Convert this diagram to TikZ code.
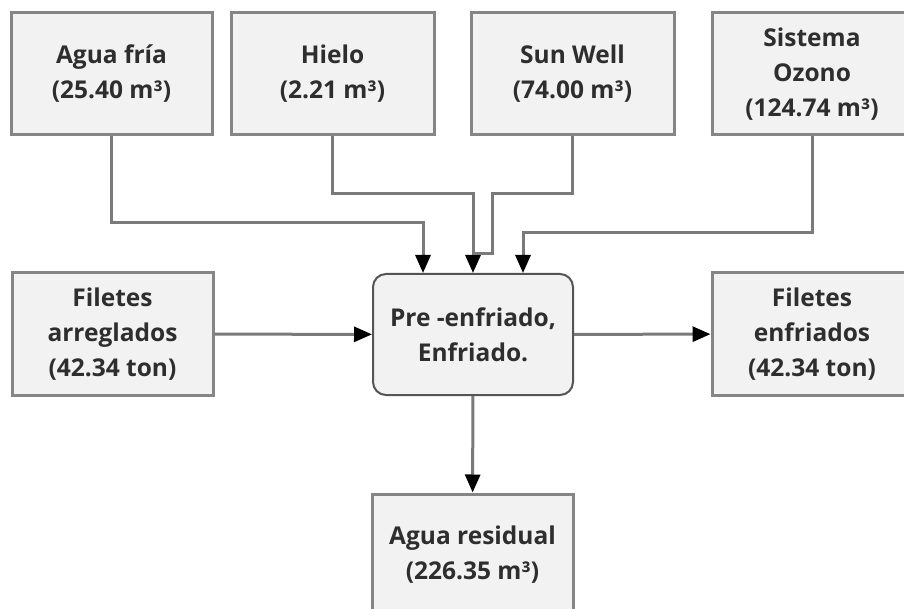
\documentclass[tikz,border=0pt]{standalone}
\usepackage{fontspec}
\setmainfont{Open Sans}
\usetikzlibrary{arrows.meta}
\definecolor{boxfill}{HTML}{F2F2F2}
\definecolor{boxline}{HTML}{858585}
\definecolor{procline}{HTML}{555555}
\definecolor{connline}{HTML}{7A7A7A}
\definecolor{txt}{HTML}{2E2E2E}
\tikzset{
  flowbox/.style={draw=boxline, line width=3pt, fill=boxfill, minimum width=201pt, minimum height=122pt, inner sep=0pt, align=center, text=txt, font=\fontsize{24.5}{35}\selectfont\bfseries},
  procbox/.style={flowbox, draw=procline, line width=2pt, rounded corners=13pt, minimum width=200pt, minimum height=121pt},
  conn/.style={draw=connline, line width=3pt, arrows={-Triangle[width=15pt,length=18pt,color=black]}},
  plainconn/.style={draw=connline, line width=3pt}
}
\begin{document}
\begin{tikzpicture}[x=1pt,y=-1pt]
\clip (0,0) rectangle (904,609);
\fill[white] (0,0) rectangle (904,609);
\node[flowbox] (agua) at (111.5,74) {Agua fría\\(25.40 m³)};
\node[flowbox, minimum width=203pt] (hielo) at (332.5,74) {Hielo\\(2.21 m³)};
\node[flowbox, minimum width=203pt] (sun) at (572.5,74) {Sun Well\\(74.00 m³)};
\node[flowbox, minimum width=200pt] (ozono) at (812,74) {Sistema\\Ozono\\(124.74 m³)};
\node[flowbox] (arr) at (112.5,334) {Filetes\\arreglados\\(42.34 ton)};
\node[procbox] (proc) at (473,334.5) {Pre -enfriado,\\Enfriado.};
\node[flowbox, minimum width=200pt] (enf) at (812,334) {Filetes\\enfriados\\(42.34 ton)};
\node[flowbox] (res) at (472.5,555) {Agua residual\\(226.35 m³)};
\coordinate (j) at (proc.north |- 0,254);
\draw[conn] (agua.south) -- (agua.south |- 0,223) -| ([xshift=-50pt]proc.north);
\draw[conn] (hielo.south) -- (hielo.south |- 0,194) -| (proc.north);
\draw[plainconn] (sun.south) -- (sun.south |- 0,194) -| ([xshift=19pt]j) -- (j);
\draw[conn] (ozono.south) -- (ozono.south |- 0,233) -| ([xshift=50pt]proc.north);
\draw[conn] (arr) -- (proc);
\draw[conn] (proc) -- (enf);
\draw[conn] (proc) -- (res);
\end{tikzpicture}
\end{document}
